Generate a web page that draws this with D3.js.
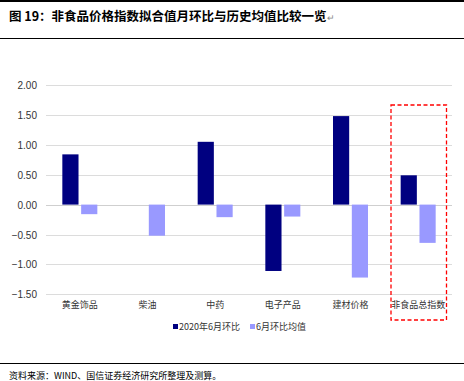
<!DOCTYPE html>
<html><head><meta charset="utf-8">
<script src="https://cdn.jsdelivr.net/npm/d3@7/dist/d3.min.js"></script>
<style>body{margin:0;background:#fff}svg{display:block}</style>
</head><body>
<svg id="c" width="464" height="381"></svg>
<script>
const categories = ["黄金饰品","柴油","中药","电子产品","建材价格","非食品总指数"];
const seriesNames = ["2020年6月环比","6月环比均值"];
const june2020 = [0.84, 0, 1.05, -1.11, 1.48, 0.49];
const juneAvg = [-0.16, -0.52, -0.21, -0.20, -1.22, -0.64];
const yTicks = [2.0, 1.5, 1.0, 0.5, 0.0, -0.5, -1.0, -1.5];
const colors = ["#000080", "#9999ff"];

const svg = d3.select("#c");
const cjk = "'Noto Sans CJK SC', sans-serif";

// frame lines & title
svg.append("line").attr("x1",0).attr("x2",464).attr("y1",1).attr("y2",1).attr("stroke","#000").attr("stroke-width",2);
svg.append("line").attr("x1",0).attr("x2",464).attr("y1",38.5).attr("y2",38.5).attr("stroke","#000").attr("stroke-width",1.2);
const title = svg.append("text").attr("x",9).attr("y",21).attr("font-family",cjk).attr("font-size",12.5).attr("fill","#000");
title.append("tspan").attr("font-weight","bold").text("图 19：非食品价格指数拟合值月环比与历史均值比较一览");
title.append("tspan").attr("font-size",9).attr("fill","#888").text("↵");
svg.append("line").attr("x1",0).attr("x2",464).attr("y1",363.5).attr("y2",363.5).attr("stroke","#000").attr("stroke-width",1.2);
svg.append("text").attr("x",9).attr("y",379).attr("font-family",cjk).attr("font-size",9).attr("fill","#000")
  .text("资料来源：WIND、国信证券经济研究所整理及测算。");

const left = 46, right = 452;
const y = d3.scaleLinear().domain([-1.5, 2.0]).range([294.3, 85]);
const x0 = d3.scaleBand().domain(categories).range([left, right]);
const x1 = d3.scaleBand().domain([0,1]).range([0, 35]).paddingInner(0.14);

const g = svg.append("g");
// gridlines
g.selectAll("line.grid").data(yTicks).join("line")
  .attr("x1", left).attr("x2", right)
  .attr("y1", d => Math.round(y(d))+0.5).attr("y2", d => Math.round(y(d))+0.5)
  .attr("stroke", d => d===0 ? "#cfcfcf" : "#dcdcdc").attr("stroke-width", 1.2);

// y axis labels
const yAxis = d3.axisLeft(y).tickValues(yTicks).tickFormat(d3.format(".2f")).tickSize(0).tickPadding(0);
const ya = svg.append("g").attr("transform", `translate(37,0)`).call(yAxis);
ya.select(".domain").remove();
ya.selectAll("text").attr("font-family","'Liberation Sans', Arial, sans-serif").attr("font-size",10).attr("fill","#333").attr("dy","0.35em");

// bars
const data = [june2020, juneAvg];
categories.forEach((c, i) => {
  const cx = x0(c) + x0.bandwidth()/2 - 17.5;
  data.forEach((s, k) => {
    const v = s[i];
    if (v === 0) return;
    g.append("rect")
      .attr("x", cx + x1(k))
      .attr("width", x1.bandwidth())
      .attr("y", y(Math.max(0, v)))
      .attr("height", Math.abs(y(v) - y(0)))
      .attr("fill", colors[k]);
  });
});

// category labels
svg.append("g").selectAll("text").data(categories).join("text")
  .attr("x", d => x0(d) + x0.bandwidth()/2)
  .attr("y", 308)
  .attr("text-anchor","middle")
  .attr("font-family",cjk).attr("font-size",9).attr("fill","#333")
  .text(d => d);

// red dashed box
svg.append("rect").attr("x",391).attr("y",105).attr("width",55.5).attr("height",215)
  .attr("fill","none").attr("stroke","#ff0000").attr("stroke-width",1.3).attr("stroke-dasharray","4,2.5");

// legend
const legendX = [173, 250];
seriesNames.forEach((n, k) => {
  svg.append("rect").attr("x", legendX[k]).attr("y", 324).attr("width",5).attr("height",5).attr("fill", colors[k]);
  svg.append("text").attr("x", legendX[k]+6).attr("y", 330).attr("font-family",cjk).attr("font-size",9).attr("fill","#333").text(n);
});
</script>
</body></html>
